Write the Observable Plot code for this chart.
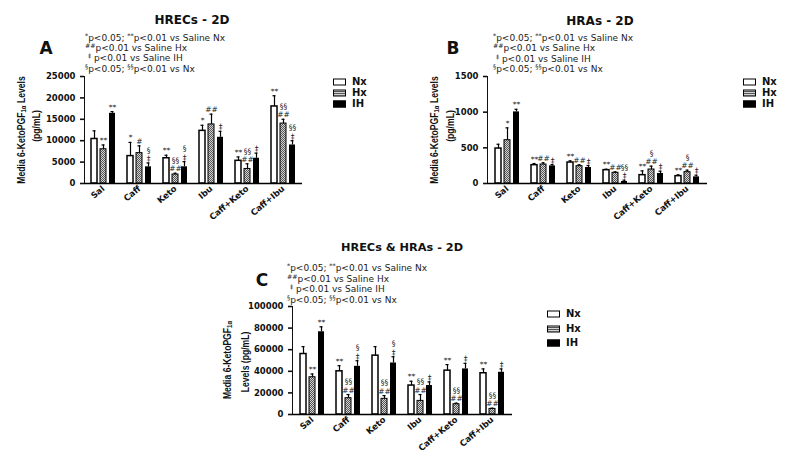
<!DOCTYPE html>
<html><head><meta charset="utf-8">
<script src="https://cdn.jsdelivr.net/npm/d3@7"></script>
<script src="https://cdn.jsdelivr.net/npm/@observablehq/plot@0.6"></script>
<style>
body{margin:0;background:#fff;}
#wrap{position:relative;width:800px;height:471px;overflow:hidden;background:#fff;font-family:"DejaVu Sans",sans-serif;color:#111;}
.abs{position:absolute;white-space:nowrap;line-height:1;}
.title{font-weight:bold;font-size:12px;transform:translate(-50%,-50%);}
.letter{font-weight:bold;font-size:17px;transform:translate(-50%,-50%);}
.note{font-size:9px;transform:translateY(-50%);color:#222;}
.note sup{font-size:70%;vertical-align:0.4em;line-height:0;}
.ylab{font-family:"Liberation Sans",Arial,sans-serif;font-weight:bold;font-size:8.6px;transform:translate(-50%,-50%) rotate(-90deg) scaleY(1.3);}
.ylab sub{font-size:70%;vertical-align:-0.25em;line-height:0;}
.leg{font-weight:bold;font-size:10px;transform:translateY(-50%);}
.sw{position:absolute;width:13px;height:7px;transform:translateY(-50%);box-sizing:border-box;border:1.6px solid #000;}
.plot{position:absolute;}
.plot svg g[aria-label^="y-axis"] path,.plot svg g[aria-label^="y-axis"] line{stroke-width:1.6;}
</style></head>
<body><div id="wrap"></div>
<script>
const categories = ["Sal", "Caff", "Keto", "Ibu", "Caff+Keto", "Caff+Ibu"];
const series = ["Nx", "Hx", "IH"];

// Panel A: HRECs - 2D (pg/mL), mean and SEM
const aNx = [10400, 6400, 5900, 12300, 5300, 18000];
const aNxSem = [1900, 3200, 700, 1300, 900, 2500];
const aHx = [8000, 7100, 2100, 13800, 3400, 14000];
const aHxSem = [1000, 1700, 300, 2400, 1200, 1000];
const aIH = [16400, 3900, 3900, 10800, 5900, 9000];
const aIHSem = [400, 900, 1200, 1400, 1200, 1000];
const aAnnNx = ["", "*", "**", "*", "**", "**"];
const aAnnHx = ["**", "#", "§§\n##", "##", "§§\n##", "§§\n##"];
const aAnnIH = ["**", "§\n‡", "§\n‡", "‡", "‡", "§§\n‡"];
const aTicks = [0, 5000, 10000, 15000, 20000, 25000];

// Panel B: HRAs - 2D
const bNx = [490, 257, 294, 187, 117, 103];
const bNxSem = [60, 23, 24, 13, 60, 18];
const bHx = [607, 266, 243, 150, 196, 159];
const bHxSem = [173, 24, 19, 13, 47, 28];
const bIH = [1004, 247, 224, 28, 140, 93];
const bIHSem = [36, 19, 28, 19, 33, 24];
const bAnnNx = ["", "**", "**", "**", "**", "**"];
const bAnnHx = ["*", "##", "##", "##", "§\n##", "§\n##"];
const bAnnIH = ["**", "‡", "‡", "§§\n‡", "‡", "‡"];
const bTicks = [0, 500, 1000, 1500];

// Panel C: HRECs & HRAs - 2D
const cNx = [56000, 40000, 54500, 26800, 40600, 38200];
const cNxSem = [6800, 5200, 8300, 4000, 5600, 4000];
const cHx = [34500, 15100, 14500, 12600, 9500, 5200];
const cHxSem = [3000, 3400, 3000, 5900, 1000, 600];
const cIH = [76600, 44600, 47700, 26800, 42200, 39100];
const cIHSem = [4600, 5200, 5800, 3400, 5200, 3100];
const cAnnNx = ["", "**", "", "**", "**", "**"];
const cAnnHx = ["**", "§§\n##", "§§\n##", "§§\n##", "§§\n##", "§§\n##"];
const cAnnIH = ["**", "§\n‡", "§\n‡", "‡", "‡", "‡"];
const cTicks = [0, 20000, 40000, 60000, 80000, 100000];

const noteLines = [
  '<sup>*</sup>p&lt;0.05; <sup>**</sup>p&lt;0.01 vs Saline Nx',
  '<sup>##</sup>p&lt;0.01 vs Saline Hx',
  '&nbsp;<sup>‡</sup> p&lt;0.01 vs Saline IH',
  '<sup>§</sup>p&lt;0.05; <sup>§§</sup>p&lt;0.01 vs Nx'
];

const wrap = document.getElementById("wrap");
function addDiv(cls, x, y, html, extra) {
  const d = document.createElement("div");
  d.className = "abs " + cls;
  d.style.left = x + "px"; d.style.top = y + "px";
  d.innerHTML = html;
  if (extra) Object.assign(d.style, extra);
  wrap.appendChild(d);
  return d;
}

function panel(cfg) {
  const vals = {Nx: cfg.nx, Hx: cfg.hx, IH: cfg.ih};
  const sems = {Nx: cfg.nxSem, Hx: cfg.hxSem, IH: cfg.ihSem};
  const anns = {Nx: cfg.annNx, Hx: cfg.annHx, IH: cfg.annIH};
  const rows = [];
  categories.forEach((c, i) => series.forEach(s => rows.push({
    key: c + "|" + s, cat: c, series: s, value: vals[s][i], top: vals[s][i] + sems[s][i], ann: anns[s][i]
  })));
  const xDomain = categories.flatMap((c, i) =>
    i < categories.length - 1 ? [c + "|Nx", c + "|Hx", c + "|IH", c + "|gap"] : [c + "|Nx", c + "|Hx", c + "|IH"]);
  const pid = "hx" + cfg.id;
  const svg = Plot.plot({
    width: cfg.width, height: cfg.height,
    marginLeft: cfg.ml, marginRight: cfg.mr, marginTop: cfg.mt, marginBottom: cfg.mb,
    style: {fontFamily: "DejaVu Sans", fontSize: "8.5px", fontWeight: "bold", color: "#111", background: "transparent", overflow: "visible"},
    x: {domain: xDomain, paddingInner: cfg.pi, paddingOuter: cfg.po, label: null,
        tickFormat: k => k.endsWith("|Hx") ? k.split("|")[0] : "", tickRotate: -40, tickSize: 0, tickPadding: 4},
    y: {domain: [0, cfg.ticks[cfg.ticks.length - 1]], ticks: cfg.ticks, tickFormat: d3.format("d"),
        tickSize: 4, line: true, label: null},
    marks: [
      Plot.barY(rows.filter(d => d.series === "Nx"), {x: "key", y: "value", fill: "white", stroke: "#000", strokeWidth: 1.5}),
      Plot.barY(rows.filter(d => d.series === "Hx"), {x: "key", y: "value", fill: `url(#${pid})`, stroke: "#000", strokeWidth: 1}),
      Plot.barY(rows.filter(d => d.series === "IH"), {x: "key", y: "value", fill: "#000"}),
      Plot.ruleX(rows, {x: "key", y1: "value", y2: "top", stroke: "#000", strokeWidth: 1.2}),
      Plot.tickY(rows, {x: "key", y: "top", stroke: "#000", strokeWidth: 1.2, insetLeft: 1.5, insetRight: 1.5}),
      Plot.ruleY([0], {stroke: "#000", strokeWidth: 1.6}),
      Plot.text(rows.filter(d => d.ann), {x: "key", y: "top", text: "ann", lineAnchor: "bottom", dy: -2,
        fontSize: 7.5, fontWeight: "normal", lineHeight: 1.1, fill: "#222"})
    ]
  });
  d3.select(svg).insert("defs", ":first-child").html(
    `<pattern id="${pid}" width="2" height="2" patternUnits="userSpaceOnUse"><rect width="2" height="2" fill="#d4d4d4"/><rect width="1" height="1" fill="#555"/><rect x="1" y="1" width="1" height="1" fill="#555"/></pattern>`);
  const holder = document.createElement("div");
  holder.className = "plot";
  holder.style.left = cfg.left + "px"; holder.style.top = cfg.top + "px";
  holder.appendChild(svg);
  wrap.appendChild(holder);

  addDiv("title", cfg.titleX, cfg.titleY, cfg.title, cfg.titleSize ? {fontSize: cfg.titleSize} : null);
  addDiv("letter", cfg.letterX, cfg.letterY, cfg.letter);
  noteLines.forEach((t, i) => addDiv("note", cfg.noteX, cfg.noteYs[i], t));
  const hxBg = "repeating-linear-gradient(0deg,#555 0 1px,#d4d4d4 1px 2px)";
  const swFill = {Nx: "#fff", Hx: hxBg, IH: "#000"};
  series.forEach((s, i) => {
    addDiv("sw", cfg.legX, cfg.legYs[i], "", {background: swFill[s]});
    addDiv("leg", cfg.legX + 19, cfg.legYs[i], s);
  });
  cfg.ylab.forEach(l => addDiv("ylab", l.x, l.y, l.html));
}

const ylabMain = 'Media 6-KetoPGF<sub>1α</sub> Levels';

panel({id: "A", nx: aNx, nxSem: aNxSem, hx: aHx, hxSem: aHxSem, ih: aIH, ihSem: aIHSem,
  annNx: aAnnNx, annHx: aAnnHx, annIH: aAnnIH, ticks: aTicks,
  left: 0, top: 0, width: 320, height: 215, ml: 84, mr: 18, mt: 76, mb: 32, pi: 0.3, po: 0.58,
  title: "HRECs - 2D", titleX: 192, titleY: 20, letter: "A", letterX: 46, letterY: 48,
  noteX: 85, noteYs: [38, 48, 58, 69], legX: 333, legYs: [82, 93, 104],
  ylab: [{x: 21, y: 130, html: ylabMain}, {x: 36, y: 126, html: "(pg/mL)"}]});

panel({id: "B", nx: bNx, nxSem: bNxSem, hx: bHx, hxSem: bHxSem, ih: bIH, ihSem: bIHSem,
  annNx: bAnnNx, annHx: bAnnHx, annIH: bAnnIH, ticks: bTicks,
  left: 400, top: 0, width: 320, height: 215, ml: 87, mr: 13, mt: 76, mb: 32, pi: 0.31, po: 0.77,
  title: "HRAs - 2D", titleX: 600, titleY: 21, letter: "B", letterX: 453, letterY: 48,
  noteX: 493, noteYs: [38, 48, 59, 69], legX: 743, legYs: [82, 93, 104],
  ylab: [{x: 434, y: 130, html: ylabMain}, {x: 450, y: 126, html: "(pg/mL)"}]});

panel({id: "C", nx: cNx, nxSem: cNxSem, hx: cHx, hxSem: cHxSem, ih: cIH, ihSem: cIHSem,
  annNx: cAnnNx, annHx: cAnnHx, annIH: cAnnIH, ticks: cTicks,
  left: 200, top: 215, width: 330, height: 256, ml: 92, mr: 18, mt: 91, mb: 57, pi: 0.28, po: 0.79,
  title: "HRECs &amp; HRAs - 2D", titleX: 402, titleY: 248, titleSize: "11.3px", letter: "C", letterX: 262, letterY: 280,
  noteX: 287, noteYs: [268, 279, 289, 300], legX: 547, legYs: [314, 329, 343],
  ylab: [{x: 227, y: 360, html: 'Media 6-KetoPGF<sub>1α</sub>'}, {x: 245, y: 362, html: "Levels (pg/mL)"}]});
</script>
</body></html>
